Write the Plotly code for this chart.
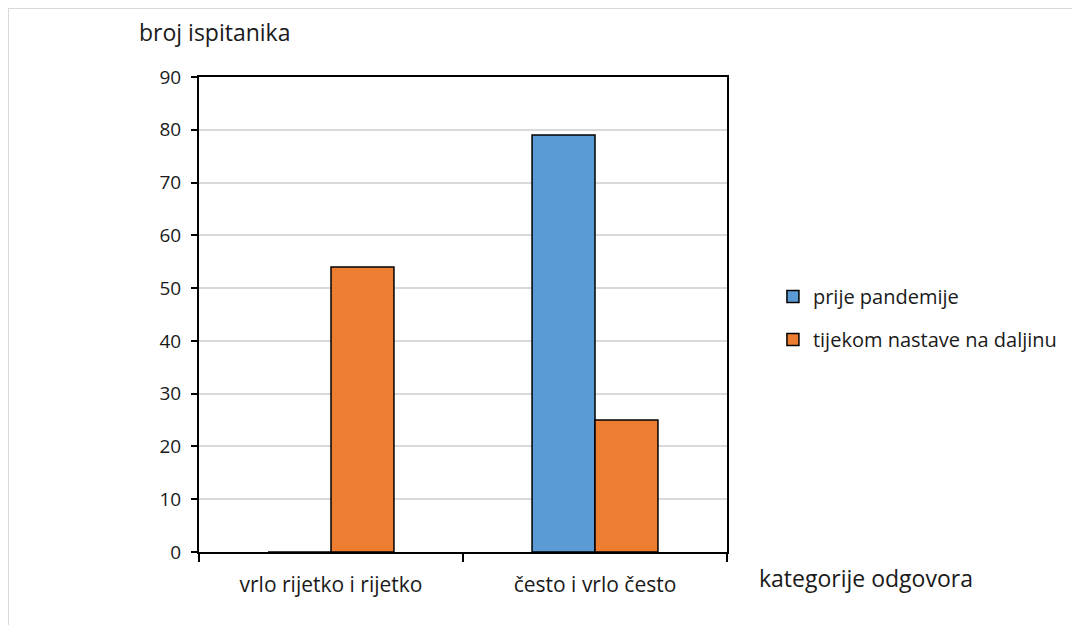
import plotly.graph_objects as go

# Podaci
kategorije = ['vrlo rijetko i rijetko', 'često i vrlo često']
prije_pandemije = [0, 79]
tijekom_nastave = [54, 25]
y_ticks = [0, 10, 20, 30, 40, 50, 60, 70, 80, 90]

FONT = "Open Sans"
TXT = '#1a1a1a'

fig = go.Figure()

fig.add_trace(go.Bar(
    x=kategorije, y=prije_pandemije,
    name='prije pandemije', legendgroup='a',
    marker=dict(color='#5B9BD5', line=dict(color='black', width=1.5))
))
fig.add_trace(go.Bar(
    x=kategorije, y=tijekom_nastave,
    name='tijekom nastave na daljinu', legendgroup='b',
    marker=dict(color='#ED7D31', line=dict(color='black', width=1.5))
))

# stranica ima 8px margine, pa je figura pomaknuta
fig.update_layout(
    width=1072, height=617,
    barmode='group', bargap=0.523, bargroupgap=0,
    plot_bgcolor='white', paper_bgcolor='white',
    margin=dict(l=191, r=353, t=69, b=73),
    font=dict(family=FONT, size=18, color=TXT),
    showlegend=True,
    legend=dict(
        x=1.087, y=0.579, xanchor='left', yanchor='top',
        traceorder='grouped', tracegroupgap=14,
        font=dict(family=FONT, size=20, color=TXT),
        itemwidth=30,
    ),
    xaxis=dict(
        showline=True, linecolor='black', linewidth=2, mirror=True,
        ticks='outside', tickson='boundaries', ticklen=8, tickcolor='black',
        tickwidth=2, ticklabelstandoff=13,
        tickfont=dict(family=FONT, size=21, color=TXT),
    ),
    yaxis=dict(
        range=[0, 90], tickvals=y_ticks,
        showline=True, linecolor='black', linewidth=2, mirror=True,
        ticks='outside', ticklen=6, tickcolor='black', tickwidth=2,
        ticklabelstandoff=6,
        showgrid=True, gridcolor='#D9D9D9', gridwidth=1.5,
        zeroline=False,
        tickfont=dict(family=FONT, size=19, color=TXT),
    ),
    annotations=[
        dict(text='broj ispitanika', xref='paper', yref='paper',
             x=0.03, y=1.095, xanchor='center', yanchor='middle',
             showarrow=False,
             font=dict(family=FONT, size=23, color=TXT)),
        dict(text='kategorije odgovora', xref='paper', yref='paper',
             x=1.263, y=-0.055, xanchor='center', yanchor='middle',
             showarrow=False,
             font=dict(family=FONT, size=23, color=TXT)),
    ],
    shapes=[
        dict(type='line', xref='paper', yref='paper',
             x0=-0.3617, x1=1.7, y0=1.1453, y1=1.1453,
             line=dict(color='#D9D9D9', width=2)),
        dict(type='line', xref='paper', yref='paper',
             x0=-0.3617, x1=-0.3617, y0=-0.2, y1=1.1453,
             line=dict(color='#D9D9D9', width=2)),
    ],
)

fig.write_html("out.html")
